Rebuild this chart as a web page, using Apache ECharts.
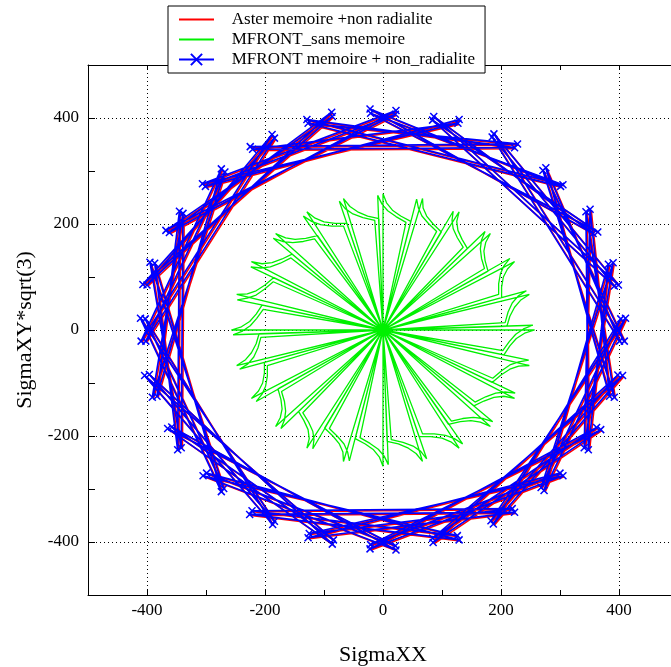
<!DOCTYPE html>
<html><head><meta charset="utf-8">
<script src="https://cdn.jsdelivr.net/npm/echarts@6/dist/echarts.min.js"></script>
<style>html,body{margin:0;padding:0;background:#fff}#c{width:671px;height:667px}</style>
</head><body><div id="c"></div>
<script>
const seriesNames = ['Aster memoire +non radialite', 'MFRONT_sans memoire', 'MFRONT memoire + non_radialite'];
const xTickLabels = [-400, -200, 0, 200, 400];
const yTickLabels = [-400, -200, 0, 200, 400];

// Aster (red) path [SigmaXX, SigmaXY*sqrt(3)]
const asterMemoire = [
[-223,344],[230,349],[-125,388],[303,269],[-20,415],[358,180],[88,401],[401,83],
[190,368],[411,-23],[273,299],[394,-129],[346,221],[350,-228],[384,122],[275,-305],
[413,20],[185,-362],[400,-87],[87,-403],[371,-190],[-19,-407],[302,-272],[-125,-394],
[225,-346],[-224,-350],[131,-398],[-297,-272],[23,-409],[-363,-188],[-84,-406],[-394,-86],
[-182,-363],[-409,20],[-272,-307],[-385,124],[-346,-228],[-343,222],[-381,-127],[-272,302],
[-408,-23],[-186,367],[-398,83],[-85,409],[-360,182],[24,412],[-304,274],[129,388],
[-219,339],[225,342],[-127,395],[307,272],[-19,407],[366,183],[86,394],[394,81],
[187,362],[403,-23],[278,304],[386,-127],[353,226],[343,-224],[392,125],[270,-299],
[405,19],[189,-368],[408,-88],[86,-395],[364,-186],[-20,-415],[307,-277],[-123,-386],
[221,-339],[-220,-343],[128,-390],[-303,-277],[24,-417],[-356,-185],[-82,-398],[-402,-88],
[-185,-369],[-401,19],[-268,-301],[-393,126],[-340,-224],[-337,218],[-389,-129],[-266,296],
[-400,-23],[-182,360],[-405,84],[-84,401],[-366,186],[23,405],[-299,269],[131,395]
];

// MFRONT without memory (green) star path, two laps
const mfrontSansMemoire = [
[0,0],[0,257],[6,240],[16,226],[30,215],[47,205],
[0,0],[67,248],[68,230],[74,215],[85,200],[99,185],
[0,0],[129,223],[125,205],[127,188],[134,171],[143,154],
[0,0],[182,182],[174,165],[171,149],[173,131],[178,111],
[0,0],[223,129],[211,115],[204,100],[201,81],[201,61],
[0,0],[248,67],[233,56],[223,43],[215,26],[210,7],
[0,0],[257,0],[240,-6],[226,-16],[215,-30],[205,-47],
[0,0],[248,-67],[230,-68],[215,-74],[200,-85],[185,-99],
[0,0],[223,-129],[205,-125],[188,-127],[171,-134],[154,-143],
[0,0],[182,-182],[165,-174],[149,-171],[131,-173],[111,-178],
[0,0],[129,-223],[115,-211],[100,-204],[81,-201],[61,-201],
[0,0],[67,-248],[56,-233],[43,-223],[26,-215],[7,-210],
[0,0],[0,-257],[-6,-240],[-16,-226],[-30,-215],[-47,-205],
[0,0],[-67,-248],[-68,-230],[-74,-215],[-85,-200],[-99,-185],
[0,0],[-129,-223],[-125,-205],[-127,-188],[-134,-171],[-143,-154],
[0,0],[-182,-182],[-174,-165],[-171,-149],[-173,-131],[-178,-111],
[0,0],[-223,-129],[-211,-115],[-204,-100],[-201,-81],[-201,-61],
[0,0],[-248,-67],[-233,-56],[-223,-43],[-215,-26],[-210,-7],
[0,0],[-257,0],[-240,6],[-226,16],[-215,30],[-205,47],
[0,0],[-248,67],[-230,68],[-215,74],[-200,85],[-185,99],
[0,0],[-223,129],[-205,125],[-188,127],[-171,134],[-154,143],
[0,0],[-182,182],[-165,174],[-149,171],[-131,173],[-111,178],
[0,0],[-129,223],[-115,211],[-100,204],[-81,201],[-61,201],
[0,0],[-67,248],[-56,233],[-43,223],[-26,215],[-7,210],
[0,0],[-9,254],[-2,238],[8,225],[22,214],[39,203],
[0,0],[57,247],[60,230],[66,215],[77,201],[91,186],
[0,0],[119,224],[117,207],[119,191],[126,174],[136,156],
[0,0],[173,186],[167,170],[165,153],[167,135],[172,116],
[0,0],[215,135],[205,121],[199,106],[196,87],[196,67],
[0,0],[243,74],[229,64],[219,51],[212,34],[207,14],
[0,0],[254,9],[238,2],[225,-8],[214,-22],[203,-39],
[0,0],[247,-57],[230,-60],[215,-66],[201,-77],[186,-91],
[0,0],[224,-119],[207,-117],[191,-119],[174,-126],[156,-136],
[0,0],[186,-173],[170,-167],[153,-165],[135,-167],[116,-172],
[0,0],[135,-215],[121,-205],[106,-199],[87,-196],[67,-196],
[0,0],[74,-243],[64,-229],[51,-219],[34,-212],[14,-207],
[0,0],[9,-254],[2,-238],[-8,-225],[-22,-214],[-39,-203],
[0,0],[-57,-247],[-60,-230],[-66,-215],[-77,-201],[-91,-186],
[0,0],[-119,-224],[-117,-207],[-119,-191],[-126,-174],[-136,-156],
[0,0],[-173,-186],[-167,-170],[-165,-153],[-167,-135],[-172,-116],
[0,0],[-215,-135],[-205,-121],[-199,-106],[-196,-87],[-196,-67],
[0,0],[-243,-74],[-229,-64],[-219,-51],[-212,-34],[-207,-14],
[0,0],[-254,-9],[-238,-2],[-225,8],[-214,22],[-203,39],
[0,0],[-247,57],[-230,60],[-215,66],[-201,77],[-186,91],
[0,0],[-224,119],[-207,117],[-191,119],[-174,126],[-156,136],
[0,0],[-186,173],[-170,167],[-153,165],[-135,167],[-116,172],
[0,0],[-135,215],[-121,205],[-106,199],[-87,196],[-67,196],
[0,0],[-74,243],[-64,229],[-51,219],[-34,212],[-14,207],[0,0]
];

// MFRONT with memory (blue) path
const mfrontMemoire = [
[-225,346],[228,351],[-127,390],[301,271],[-22,417],[356,182],[86,403],[399,85],
[188,370],[409,-21],[271,301],[392,-127],[344,223],[348,-226],[382,124],[273,-303],
[411,22],[183,-360],[398,-85],[85,-401],[369,-188],[-21,-405],[300,-270],[-127,-392],
[223,-344],[-226,-348],[129,-396],[-299,-270],[21,-407],[-365,-186],[-86,-404],[-396,-84],
[-184,-361],[-411,22],[-274,-305],[-387,126],[-348,-226],[-345,224],[-383,-125],[-274,304],
[-410,-21],[-188,369],[-400,85],[-87,411],[-362,184],[22,414],[-306,276],[127,390],
[-221,341],[223,344],[-129,397],[305,274],[-21,409],[364,185],[84,396],[392,83],
[185,364],[401,-21],[276,306],[384,-125],[351,228],[341,-222],[390,127],[268,-297],
[403,21],[187,-366],[406,-86],[84,-393],[362,-184],[-22,-413],[305,-275],[-125,-384],
[219,-337],[-222,-341],[126,-388],[-305,-275],[22,-415],[-358,-183],[-84,-396],[-404,-86],
[-187,-367],[-403,21],[-270,-299],[-395,128],[-342,-222],[-339,220],[-391,-127],[-268,298],
[-402,-21],[-184,362],[-407,86],[-86,403],[-368,188],[21,407],[-301,271],[129,397]
];

const FONT = 'Liberation Serif';
const gridColors = ['rgba(0,0,0,0)', '#000'];

function mkX(pos, main) {
  return {
    type: 'value', min: -500, max: 500, interval: 100, position: pos,
    axisLine: { show: true, onZero: false, lineStyle: { color: '#000', width: 1 } },
    axisTick: { show: true, inside: true, length: 5, lineStyle: { color: '#000' } },
    axisLabel: main ? { show: true, margin: 7, color: '#000', fontFamily: FONT, fontSize: 17,
      formatter: v => xTickLabels.indexOf(Math.round(v)) >= 0 ? String(Math.round(v)) : '' } : { show: false },
    splitLine: main ? { show: true, lineStyle: { type: [1, 3], color: gridColors, width: 1 } } : { show: false },
    name: main ? 'SigmaXX' : '', nameLocation: 'middle', nameGap: 49,
    nameTextStyle: { fontFamily: FONT, fontSize: 22, color: '#000' }
  };
}
function mkY(pos, main) {
  return {
    type: 'value', min: -500, max: 500, interval: 100, position: pos,
    axisLine: { show: true, onZero: false, lineStyle: { color: '#000', width: 1 } },
    axisTick: { show: true, inside: true, length: 7, lineStyle: { color: '#000' } },
    axisLabel: main ? { show: true, margin: 9, color: '#000', fontFamily: FONT, fontSize: 17,
      formatter: v => yTickLabels.indexOf(Math.round(v)) >= 0 ? String(Math.round(v)) : '' } : { show: false },
    splitLine: main ? { show: true, lineStyle: { type: [1, 3], color: gridColors, width: 1 } } : { show: false },
    name: main ? 'SigmaXY*sqrt(3)' : '', nameLocation: 'middle', nameGap: 52, nameRotate: 90,
    nameTextStyle: { fontFamily: FONT, fontSize: 22, color: '#000' }
  };
}

const noDot = { color: 'rgba(0,0,0,0)', borderWidth: 0 };
const chart = echarts.init(document.getElementById('c'), null, { renderer: 'canvas' });
chart.setOption({
  animation: false,
  backgroundColor: '#fff',
  grid: { left: 88, top: 65, width: 590, height: 530, containLabel: false, outerBoundsMode: 'none' },
  xAxis: [mkX('bottom', true), mkX('top', false)],
  yAxis: [mkY('left', true), mkY('right', false)],
  legend: {
    left: 168, top: 6, orient: 'vertical', itemWidth: 35, itemHeight: 14, itemGap: 3,
    padding: [5, 10, 5, 10], borderColor: '#000', borderWidth: 1, backgroundColor: '#fff',
    textStyle: { fontFamily: FONT, fontSize: 17, color: '#000' },
    formatter: n => '   ' + n,
    data: [
      { name: seriesNames[0], itemStyle: noDot },
      { name: seriesNames[1], itemStyle: noDot },
      { name: seriesNames[2] }
    ]
  },
  series: [
    { name: seriesNames[0], type: 'line', data: asterMemoire, symbol: 'none', z: 2,
      lineStyle: { color: '#ff0000', width: 1.6 }, itemStyle: { color: '#ff0000' } },
    { name: seriesNames[1], type: 'line', data: mfrontSansMemoire, symbol: 'none', z: 3,
      lineStyle: { color: '#00f000', width: 1.3 }, itemStyle: { color: '#00f000' } },
    { name: seriesNames[2], type: 'line', data: mfrontMemoire, z: 4,
      symbol: 'path://M0,0L10,10M10,0L0,10', symbolSize: 7, showSymbol: true,
      lineStyle: { color: '#0000ff', width: 1.7 },
      itemStyle: { color: '#0000ff', borderColor: '#0000ff', borderWidth: 1.5 } }
  ]
});
</script></body></html>
